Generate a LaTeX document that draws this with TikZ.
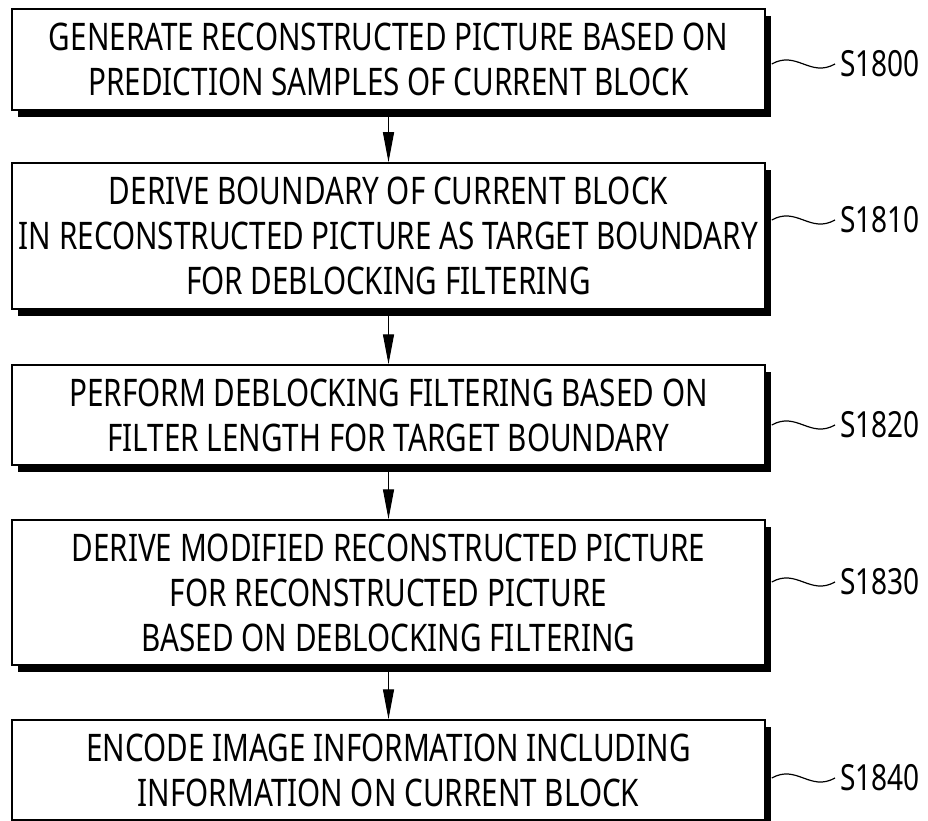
\documentclass[tikz,border=0pt]{standalone}
\usepackage{fontspec}
\setmainfont{Noto Sans}[FakeStretch=0.78]
\usetikzlibrary{arrows.meta,shadows}

\tikzset{
  stepbox/.style={draw, line width=1.5pt, fill=white, minimum width=753pt,
    inner sep=0pt, align=center, font=\fontsize{38}{45}\selectfont,
    drop shadow={shadow xshift=6pt, shadow yshift=-7pt, opacity=1, fill=black}},
  flow/.style={line width=1.3pt, -{Triangle[length=30pt,width=11pt]}},
  tag/.style={anchor=west, inner sep=0pt, font=\fontsize{36}{40}\selectfont},
  wave/.style={line width=1.2pt}
}

\begin{document}
\begin{tikzpicture}[x=1pt, y=-1pt]
  \clip (0,0) rectangle (928,821);

  % Draw steps
  \node[stepbox, minimum height=101pt] (gen) at (388.5,59.5)
    {GENERATE RECONSTRUCTED PICTURE BASED ON\\PREDICTION SAMPLES OF CURRENT BLOCK};
  \node[stepbox, minimum height=146pt] (bound) at (388.5,236)
    {DERIVE BOUNDARY OF CURRENT BLOCK\\IN RECONSTRUCTED PICTURE AS TARGET BOUNDARY\\FOR DEBLOCKING FILTERING};
  \node[stepbox, minimum height=100pt] (filt) at (388.5,415)
    {PERFORM DEBLOCKING FILTERING BASED ON\\FILTER LENGTH FOR TARGET BOUNDARY};
  \node[stepbox, minimum height=145pt] (modif) at (388.5,592.5)
    {DERIVE MODIFIED RECONSTRUCTED PICTURE\\FOR RECONSTRUCTED PICTURE\\BASED ON DEBLOCKING FILTERING};
  \node[stepbox, minimum height=100pt] (enc) at (388.5,770)
    {ENCODE IMAGE INFORMATION INCLUDING\\INFORMATION ON CURRENT BLOCK};

  % Draw arrows
  \draw[flow] (gen.south) -- (bound.north);
  \draw[flow] (bound.south) -- (filt.north);
  \draw[flow] (filt.south) -- (modif.north);
  \draw[flow] (modif.south) -- (enc.north);

  % Step labels
  \node[tag] (s1800) at (840,64) {S1800};
  \node[tag] (s1810) at (840,220) {S1810};
  \node[tag] (s1820) at (840,425) {S1820};
  \node[tag] (s1830) at (840,582) {S1830};
  \node[tag] (s1840) at (840,778) {S1840};

  \foreach \b/\s in {gen/s1800, bound/s1810, filt/s1820, modif/s1830, enc/s1840} {
    \draw[wave] ([xshift=6pt]\b.east |- \s.west)
      .. controls +(25,-14) and +(-25,14) .. ([xshift=-5pt]\s.west);
  }
\end{tikzpicture}
\end{document}
